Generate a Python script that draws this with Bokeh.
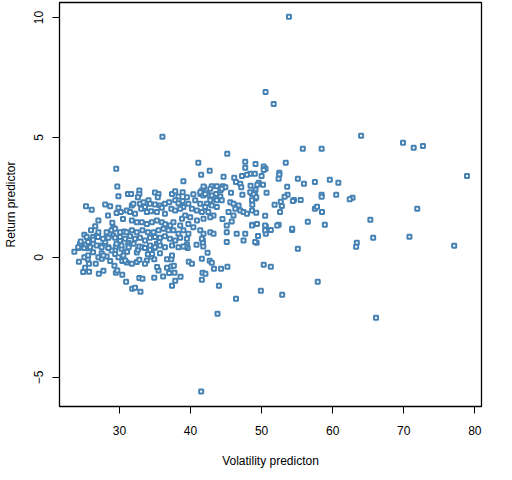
from bokeh.plotting import figure
from bokeh.models import FixedTicker, Range1d, ColumnDataSource
from bokeh.embed import file_html
from bokeh.resources import INLINE

x_label = "Volatility predicton"
y_label = "Return predictor"
x_ticks = [30, 40, 50, 60, 70, 80]
y_ticks = [-5, 0, 5, 10]

# outliers / right side
vol_right = [53.85, 50.56, 51.7, 64.0, 69.9, 71.4, 72.7, 55.8, 58.45, 78.9, 53.4, 49.15, 50.3, 50.56, 50.3,
             49.05, 52.5, 52.5, 52.4, 50.0, 55.1, 55.96, 57.5, 59.6, 60.8, 53.6, 49.6, 49.4, 50.2, 48.45,
             50.7, 49.05, 49.15, 53.66, 53.24, 58.45, 58.45, 60.5, 62.8, 62.4, 54.55, 55.5, 49.15,
             51.83, 52.7, 52.85, 48.7, 57.5, 57.8, 58.5, 52.6, 49.25, 50.5, 71.9, 65.3, 56.5, 58.9, 52.4,
             48.7, 50.6, 51.3, 54.3, 50.6, 49.5, 49.3, 65.7, 70.8, 63.4, 63.3, 77.1, 55.1, 50.3, 51.3,
             57.9, 49.9, 52.9, 66.1, 41.5, 43.8, 46.4, 48.4, 48.65, 48.97]
ret_right = [10.03, 6.9, 6.4, 5.07, 4.78, 4.57, 4.65, 4.53, 4.53, 3.40, 3.95, 3.9, 3.79, 3.7, 3.64,
             3.49, 3.53, 3.46, 3.28, 3.4, 3.28, 3.07, 3.15, 3.24, 3.11, 2.95, 3.11, 3.03, 3.03, 2.99,
             2.7, 2.7, 2.82, 2.61, 2.53, 2.61, 2.53, 2.61, 2.49, 2.43, 2.4, 2.4, 2.46,
             2.2, 2.32, 2.15, 2.2, 2.03, 2.11, 1.9, 1.9, 1.86, 1.74, 2.03, 1.57, 1.49, 1.36, 1.36,
             1.36, 1.28, 1.15, 1.15, 0.99, 0.9, 0.61, 0.82, 0.86, 0.61, 0.45, 0.49, 0.36, -0.3, -0.39,
             -1.01, -1.39, -1.55, -2.51, -5.58, -2.35, -1.72, 3.49, 2.65, 2.7]

# lower middle cluster
vol_low = [39.5, 39.6, 39.3, 40.85, 41.74, 41.74, 41.8, 42.4, 41.6, 39.76, 40.2, 42.7, 43.0, 43.3, 44.3,
           45.2, 41.7, 42.1, 38.6, 41.6, 44.0,
           23.66, 24.3, 24.46, 25.07, 25.27, 25.87, 25.6, 24.3, 25.17, 25.73, 27.1, 27.75, 26.67, 25.73,
           25.55, 27.04, 27.52, 28.2, 28.7, 29.3, 29.5, 29.7, 30.4, 30.94, 31.8, 32.2, 32.96, 32.8, 33.24,
           34.9, 36.15, 37.4, 37.85, 37.0, 37.75, 36.7, 37.3, 37.66, 35.5, 35.3, 36.7, 37.3, 37.4, 30.7,
           31.08, 29.4, 29.5, 28.45, 27.5, 30.4, 31.04, 31.75, 32.45, 32.8, 33.86, 33.6, 34.9, 34.46, 34.0,
           31.27, 31.27, 32.45, 32.6, 32.8, 33.24, 34.3, 34.9, 35.27, 35.6, 34.6, 35.7, 38.3, 39.0,
           26.0, 25.07, 24.56, 25.07, 24.9, 25.4, 25.87, 26.3, 26.8, 27.04, 26.3, 27.5, 28.0, 28.2, 28.7,
           29.15, 28.9, 29.6, 30.1, 30.3, 29.4, 29.86, 30.56, 30.8, 27.75, 26.3, 25.6, 29.15, 30.66]
ret_low = [0.54, 0.4, 0.46, 0.53, 0.71, 0.6, 0.46, 0.2, -0.05, -0.18, -0.26, -0.14, -0.22, -0.47, -0.47,
           -0.39, -0.64, -0.68, -0.8, -0.93, -1.18,
           0.24, 0.4, 0.57, 0.4, 0.54, 0.6, 0.38, -0.18, -0.43, -0.6, -0.68, -0.55, -0.26, -0.26,
           -0.07, 0.01, -0.05, 0.04, -0.15, -0.35, -0.64, -0.54, -0.72, -1.01, -1.3, -1.26, -1.43, -0.86, -0.89,
           -0.85, -0.79, -1.18, -0.97, -0.65, -0.64, -0.43, -0.38, -0.35, -0.54, -0.4, -0.07, -0.07, 0.08, 0.24,
           0.24, 0.29, 0.46, 0.43, 0.18, -0.15, -0.21, -0.26, -0.19, -0.1, -0.13, -0.26, -0.07, 0.04, 0.13,
           0.6, 0.51, 0.21, 0.32, 0.46, 0.43, 0.32, 0.4, 0.57, 0.64, 0.15, 0.18, 0.43, 0.46,
           1.13, 0.95, 0.67, 0.01, -0.61, 0.85, 0.71, 0.85, 0.92, 1.05, 0.57, 0.5, 0.64, 0.85, 0.99,
           0.92, 0.29, 0.57, 0.71, 0.36, 0.15, 0.01, 0.08, -0.13, 0.08, 0.22, 0.08, 1.24, 1.08]

# left/central dense cluster
vol_mid = [36.05, 29.55, 39.0, 29.7, 29.86, 31.2, 31.65, 32.8, 32.8, 32.6, 35.0, 35.5, 35.4, 37.4, 37.85,
           38.3, 38.9, 25.3, 26.1, 28.0, 28.7, 29.86, 29.6, 31.75, 31.97, 32.9, 33.4, 34.1, 34.3, 35.0,
           35.7, 36.4, 37.0, 37.85, 38.3, 38.9, 39.0, 31.04, 31.5, 32.2, 33.06, 33.6, 33.86, 34.46, 35.27,
           35.97, 36.4, 37.3, 37.85, 38.55, 27.04, 31.75, 32.45, 33.15, 33.86, 34.56, 35.27, 35.97, 36.44,
           37.14, 37.6, 38.55, 28.2, 28.9, 29.4, 30.1, 31.0, 31.75, 32.45, 33.24, 34.0, 34.8, 35.5, 36.2,
           36.9, 37.6, 38.3, 39.0, 24.2, 25.6, 26.3, 27.0, 27.7, 28.45, 29.4, 30.1, 30.8, 31.5, 32.2, 32.9,
           33.6, 34.3, 35.0, 35.7, 36.4, 37.1, 37.85, 38.55, 25.87, 26.8, 27.5, 28.45, 30.3, 31.3, 32.0,
           33.6, 34.3, 35.0, 35.7, 36.4, 37.4, 30.5, 30.2, 28.4, 29.0, 26.6]
ret_mid = [5.03, 3.70, 3.18, 2.96, 2.55, 2.65, 2.65, 2.79, 2.65, 2.51, 2.71, 2.65, 2.51, 2.65, 2.76,
           2.54, 2.72, 2.13, 1.99, 2.21, 2.13, 2.07, 1.85, 2.17, 2.24, 2.24, 2.3, 2.38, 2.24, 2.21,
           2.17, 2.24, 2.3, 2.38, 2.26, 2.35, 2.1, 1.96, 1.89, 1.82, 2.03, 2.1, 1.89, 1.93, 1.89,
           2.07, 1.82, 2.03, 1.96, 2.03, 1.54, 1.54, 1.47, 1.47, 1.4, 1.47, 1.54, 1.47, 1.38,
           1.33, 1.47, 1.33, 1.05, 1.13, 1.2, 1.05, 1.05, 1.13, 1.05, 1.13, 1.05, 1.05, 1.13, 1.2,
           1.13, 1.13, 0.99, 1.13, 0.43, 0.64, 0.74, 0.85, 0.78, 0.82, 0.82, 0.85, 0.78, 0.88, 0.78, 0.82,
           0.71, 0.82, 0.85, 0.82, 0.88, 0.78, 0.71, 0.82, 0.43, 0.5, 0.43, 0.4, 0.5, 0.43, 0.57,
           0.4, 0.5, 0.43, 0.5, 0.43, 0.5, 1.6, 1.9, 1.75, 1.45, 1.3]

# upper-middle cluster (around 40-50)
vol_up = [45.17, 41.1, 47.7, 47.7, 41.5, 42.7, 44.65, 46.15, 46.4, 47.24, 47.94, 47.0, 47.14,
          44.56, 44.9, 43.7, 43.0, 41.6, 41.9, 42.3, 43.6, 44.2, 43.2, 42.7, 41.4, 41.8,
          45.7, 47.3, 48.4, 48.9, 49.25, 48.65, 54.4,
          41.83, 42.78, 44.4, 41.37, 42.07, 43.0, 44.2, 43.48, 42.78, 42.3, 43.0, 43.7, 44.4, 43.7, 42.07,
          41.37, 40.66, 40.4, 39.5, 39.7, 40.2, 40.9, 41.6, 42.5, 43.24, 42.78, 41.83, 40.9, 39.96, 39.25,
          38.8, 39.7, 40.4, 39.7, 39.5, 41.37, 41.83, 41.6, 42.78, 43.24, 45.1, 45.1, 45.35, 45.6, 46.05,
          46.76, 46.3, 47.0, 46.05, 47.46, 47.94, 48.65, 49.35, 48.65, 50.5, 50.5, 47.7, 49.1, 52.2, 54.3,
          45.1, 47.46, 46.5, 44.5, 45.8]
ret_up = [4.32, 3.95, 3.99, 3.74, 3.45, 3.61, 3.36, 3.32, 3.15, 3.4, 3.45, 3.07, 2.93,
          2.97, 2.93, 2.97, 2.97, 2.79, 2.93, 2.68, 2.65, 2.79, 2.51, 2.58, 2.65, 2.58,
          2.7, 2.61, 2.72, 2.63, 2.51, 2.38, 2.35,
          2.96, 2.86, 2.86, 2.72, 2.65, 2.58, 2.54, 2.45, 2.38, 2.24, 2.17, 2.38, 2.38, 2.1, 2.1,
          2.24, 2.38, 2.63, 2.51, 2.24, 2.03, 1.96, 1.89, 1.89, 1.75, 1.68, 1.61, 1.54, 1.68, 1.75,
          1.61, 1.4, 1.26, 0.99, 0.78, 1.13, 0.99, 0.78, 1.05, 0.99, 1.33, 1.05, 1.89, 2.3, 2.24,
          2.17, 2.03, 1.96, 1.75, 1.89, 1.82, 1.96, 1.4, 1.33, 1.33, 1.13, 0.99, 0.64, 1.33, 1.2,
          0.64, 0.71, 0.99, 1.6, 1.5]

vol_pred = vol_right + vol_low + vol_mid + vol_up
ret_pred = ret_right + ret_low + ret_mid + ret_up

source = ColumnDataSource(data=dict(x=vol_pred, y=ret_pred))

p = figure(width=512, height=480,
           x_range=Range1d(21.57, 80.94), y_range=Range1d(-6.21, 10.625),
           output_backend="svg", toolbar_location=None,
           min_border_left=59, min_border_right=31, min_border_top=2, min_border_bottom=74)

p.background_fill_color = "white"
p.border_fill_color = "white"
p.grid.visible = False
p.outline_line_color = "black"
p.outline_line_width = 1.3
p.outline_line_alpha = 1

p.scatter("x", "y", source=source, marker="square", size=4,
          line_color="#4682B4", fill_color="white", line_width=2)

for ax in (p.xaxis[0], p.yaxis[0]):
    ax.axis_line_color = None
    ax.major_tick_out = 7
    ax.major_tick_in = 0
    ax.minor_tick_out = 0
    ax.minor_tick_in = 0
    ax.major_tick_line_color = "black"
    ax.major_label_text_font = "Liberation Sans"
    ax.major_label_text_font_size = "12px"
    ax.major_label_text_color = "black"
    ax.axis_label_text_font = "Liberation Sans"
    ax.axis_label_text_font_size = "12px"
    ax.axis_label_text_font_style = "normal"
    ax.axis_label_text_color = "black"

p.xaxis.ticker = FixedTicker(ticks=x_ticks)
p.yaxis.ticker = FixedTicker(ticks=y_ticks)
p.xaxis.axis_label = x_label
p.yaxis.axis_label = y_label
p.xaxis.major_label_standoff = 12
p.xaxis.axis_label_standoff = 16
p.yaxis.major_label_standoff = 9
p.yaxis.axis_label_standoff = 14
p.yaxis.major_label_orientation = "vertical"

open("out.html", "w").write(file_html(p, INLINE))
